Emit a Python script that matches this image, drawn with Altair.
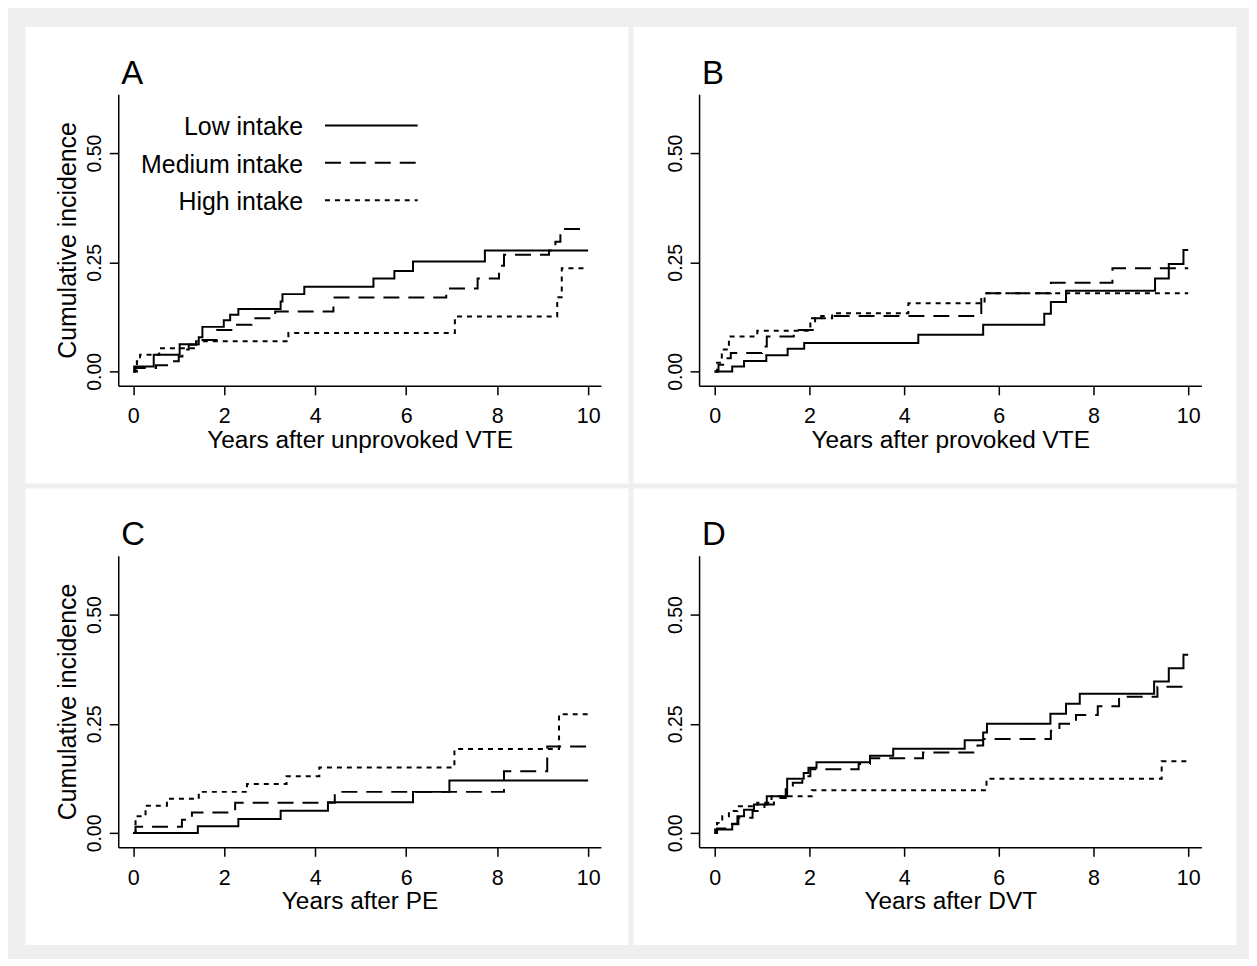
import altair as alt
import pandas as pd

FONT = "Liberation Sans"
SERIES = ["Low intake", "Medium intake", "High intake"]
DASHES = [[1, 0], [16, 9], [5, 5]]
X_TICKS = [0, 2, 4, 6, 8, 10]
Y_TICKS = [0, 0.25, 0.5]
PANEL_LABELS = ["A", "B", "C", "D"]
X_TITLES = ["Years after unprovoked VTE", "Years after provoked VTE",
            "Years after PE", "Years after DVT"]
Y_TITLE = "Cumulative incidence"

# Panel A: unprovoked VTE
a_low_t = [0, 0.02, 0.45, 1.02, 1.44, 1.52, 1.99, 2.13, 2.31, 3.24, 3.28, 3.76, 5.28, 5.74, 6.15, 7.73, 10.0]
a_low_v = [0, 0.011, 0.038, 0.062, 0.078, 0.102, 0.117, 0.130, 0.143, 0.160, 0.177, 0.194, 0.213, 0.230, 0.252, 0.277, 0.277]
a_med_t = [0, 0.05, 0.5, 0.85, 1.0, 1.08, 1.22, 1.42, 1.84, 2.22, 2.6, 3.12, 4.4, 6.88, 7.57, 8.04, 8.15, 9.14, 9.28, 9.39, 10.0]
a_med_v = [0, 0.008, 0.014, 0.023, 0.034, 0.05, 0.061, 0.072, 0.095, 0.107, 0.122, 0.137, 0.169, 0.19, 0.213, 0.242, 0.267, 0.277, 0.297, 0.326, 0.326]
a_high_t = [0, 0.08, 0.15, 0.57, 1.38, 3.41, 7.07, 9.32, 9.42, 10.0]
a_high_v = [0, 0.023, 0.038, 0.053, 0.069, 0.088, 0.126, 0.17, 0.236, 0.236]

# Panel B: provoked VTE
b_low_t = [0, 0.37, 0.62, 1.09, 1.54, 1.89, 4.3, 5.67, 6.96, 7.1, 7.42, 9.3, 9.59, 9.9, 10.0]
b_low_v = [0, 0.011, 0.024, 0.037, 0.052, 0.065, 0.084, 0.107, 0.132, 0.159, 0.185, 0.213, 0.246, 0.278, 0.278]
b_med_t = [0, 0.08, 0.2, 0.34, 1.0, 1.1, 1.67, 2.12, 2.25, 5.63, 7.1, 8.4, 10.0]
b_med_v = [0, 0.015, 0.03, 0.042, 0.057, 0.08, 0.095, 0.122, 0.127, 0.179, 0.203, 0.236, 0.236]
b_high_t = [0, 0.05, 0.15, 0.3, 0.9, 2.02, 2.48, 4.09, 5.7, 10.0]
b_high_v = [0, 0.02, 0.05, 0.08, 0.093, 0.122, 0.133, 0.156, 0.179, 0.179]

# Panel C: PE
c_low_t = [0, 1.42, 2.31, 3.24, 4.28, 6.15, 6.95, 10.0]
c_low_v = [0, 0.015, 0.032, 0.051, 0.07, 0.094, 0.12, 0.12]
c_med_t = [0, 0.05, 1.07, 1.29, 2.24, 4.43, 8.15, 9.1, 10.0]
c_med_v = [0, 0.014, 0.03, 0.047, 0.069, 0.094, 0.141, 0.198, 0.198]
c_high_t = [0, 0.05, 0.27, 0.74, 1.44, 2.5, 3.37, 4.09, 7.06, 9.36, 10.0]
c_high_v = [0, 0.038, 0.0625, 0.078, 0.094, 0.112, 0.13, 0.15, 0.192, 0.272, 0.272]

# Panel D: DVT
d_low_t = [0, 0.01, 0.37, 0.48, 0.62, 0.83, 1.1, 1.53, 1.88, 1.98, 2.15, 3.28, 3.77, 5.28, 5.67, 5.75, 7.09, 7.42, 7.71, 9.28, 9.59, 9.9, 10.0]
d_low_v = [0, 0.008, 0.021, 0.038, 0.053, 0.065, 0.084, 0.124, 0.137, 0.149, 0.162, 0.177, 0.193, 0.212, 0.23, 0.25, 0.273, 0.296, 0.319, 0.347, 0.377, 0.408, 0.408]
d_med_t = [0, 0.05, 0.3, 0.5, 0.8, 1.05, 1.25, 1.5, 1.65, 1.85, 2.02, 3.04, 3.28, 4.4, 5.55, 5.67, 7.1, 7.28, 7.63, 8.09, 8.54, 9.35, 10.0]
d_med_v = [0, 0.01, 0.02, 0.035, 0.05, 0.065, 0.08, 0.1, 0.115, 0.13, 0.146, 0.158, 0.171, 0.184, 0.2, 0.215, 0.234, 0.25, 0.27, 0.29, 0.312, 0.335, 0.335]
d_high_t = [0, 0.05, 0.16, 0.3, 0.48, 0.9, 1.2, 2.05, 5.74, 9.44, 10.0]
d_high_v = [0, 0.023, 0.038, 0.05, 0.061, 0.069, 0.084, 0.098, 0.124, 0.164, 0.164]

PANEL_DATA = [
    [(a_low_t, a_low_v), (a_med_t, a_med_v), (a_high_t, a_high_v)],
    [(b_low_t, b_low_v), (b_med_t, b_med_v), (b_high_t, b_high_v)],
    [(c_low_t, c_low_v), (c_med_t, c_med_v), (c_high_t, c_high_v)],
    [(d_low_t, d_low_v), (d_med_t, d_med_v), (d_high_t, d_high_v)],
]

W, H = 605, 458
X_DOMAIN = [-0.33, 10.28]
Y_DOMAIN = [-0.033, 0.635]
Y_RANGE = [360.5, 67.9]


def make_panel(i, with_ytitle, with_legend):
    rows = []
    for s, (ts, vs) in zip(SERIES, PANEL_DATA[i]):
        for t, v in zip(ts, vs):
            rows.append({"series": s, "t": t, "v": v})
    df = pd.DataFrame(rows)
    x_range = [93.6, 577.8] if with_ytitle else [66.3, 570.3]
    xs = alt.Scale(domain=X_DOMAIN, range=x_range, nice=False, zero=False)
    ys = alt.Scale(domain=Y_DOMAIN, range=Y_RANGE, nice=False, zero=False)
    x_axis = alt.Axis(values=X_TICKS, format="d", orient="bottom",
                      offset=Y_RANGE[0] - H, title=X_TITLES[i],
                      titleX=(x_range[0] + x_range[1]) / 2, titleY=61.6,
                      titleBaseline="alphabetic", titleAlign="center",
                      titleFontSize=24.5, labelFontSize=21.5, labelPadding=11,
                      labelFlush=False, labelOverlap=False)
    y_kwargs = dict(values=Y_TICKS, format=".2f", orient="left",
                    offset=-x_range[0], labelAngle=270, labelAlign="center",
                    labelBaseline="alphabetic", labelPadding=9,
                    labelFontSize=19.5, labelFlush=False, labelOverlap=False)
    if with_ytitle:
        y_axis = alt.Axis(title=Y_TITLE, titleX=-42.5,
                          titleY=(Y_RANGE[0] + Y_RANGE[1]) / 2, titleAngle=270,
                          titleBaseline="alphabetic", titleAlign="center",
                          titleFontSize=25, **y_kwargs)
    else:
        y_axis = alt.Axis(title="", **y_kwargs)

    lines = alt.Chart(df).mark_line(interpolate="step-after", color="black",
                                    strokeWidth=2).encode(
        x=alt.X("t:Q", scale=xs, axis=x_axis),
        y=alt.Y("v:Q", scale=ys, axis=y_axis),
        strokeDash=alt.StrokeDash("series:N",
                                  scale=alt.Scale(domain=SERIES, range=DASHES),
                                  legend=None),
        detail="series:N",
    )
    label = alt.Chart(pd.DataFrame({"lab": [PANEL_LABELS[i]]})).mark_text(
        align="left", baseline="alphabetic", fontSize=33, font=FONT,
        color="black").encode(text="lab:N", x=alt.value(x_range[0] + 3),
                              y=alt.value(57.5))
    layers = [lines, label]
    if with_legend:
        for k, s in enumerate(SERIES):
            ldf = pd.DataFrame({"name": [s]})
            base_y = 109.3 + 37.5 * k
            layers.append(alt.Chart(ldf).mark_text(
                align="right", baseline="alphabetic", fontSize=25, font=FONT,
                color="black").encode(text="name:N", x=alt.value(279),
                                      y=alt.value(base_y)))
            layers.append(alt.Chart(ldf).mark_rule(
                color="black", strokeWidth=2, strokeDash=DASHES[k]).encode(
                x=alt.value(301), x2=alt.value(394),
                y=alt.value(base_y - 10)))
    return alt.layer(*layers).properties(width=W, height=H)


pA = make_panel(0, True, True)
pB = make_panel(1, False, False)
pC = make_panel(2, True, False)
pD = make_panel(3, False, False)

chart = alt.vconcat(
    alt.hconcat(pA, pB, spacing=3),
    alt.hconcat(pC, pD, spacing=3),
    spacing=3,
).configure(
    background="#efefef",
    padding={"left": 16, "top": 16, "right": 12, "bottom": 12},
).configure_view(
    fill="white", stroke="transparent"
).configure_axis(
    domainColor="black", tickColor="black", labelColor="black",
    titleColor="black", labelFont=FONT, titleFont=FONT,
    titleFontWeight="normal", grid=False, tickSize=9,
    domainWidth=1.5, tickWidth=1.5,
)

chart.save("out.html", embed_options={"renderer": "svg", "actions": False})
